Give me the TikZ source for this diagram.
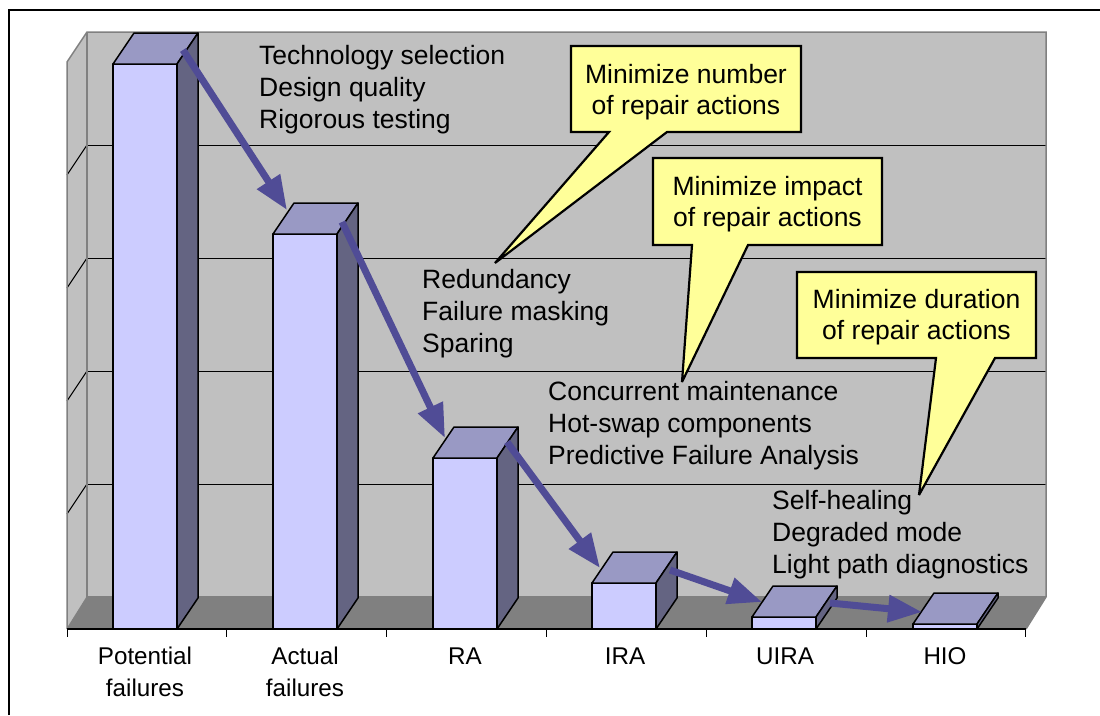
\documentclass[tikz,border=0pt]{standalone}
\usepackage{fontspec}
\setmainfont{Liberation Sans}
\usetikzlibrary{arrows.meta}

\definecolor{wallgray}{HTML}{C0C0C0}
\definecolor{floorgray}{HTML}{808080}
\definecolor{edgegray}{HTML}{808080}
\definecolor{barfront}{HTML}{CCCCFF}
\definecolor{bartop}{HTML}{9999C4}
\definecolor{barside}{HTML}{646482}
\definecolor{flow}{HTML}{504C96}
\definecolor{note}{HTML}{FFFF99}

% multi-line text whose reference point is the first baseline
\newcommand\leftlines[1]{\begin{tabular}[t]{@{}l@{}}#1\end{tabular}}
\newcommand\centerlines[1]{\begin{tabular}[t]{@{}c@{}}#1\end{tabular}}

% one 3-D column: #1 left x of the front face, #2 top y of the front face
\newcommand\drawcolumn[2]{%
  \filldraw[colface, fill=barfront] (#1,629) rectangle (#1+64,#2);
  \filldraw[colface, fill=bartop] (#1,#2) -- ++(21,-31) -- ++(64,0) -- ++(-21,31) -- cycle;
  \filldraw[colface, fill=barside] (#1+64,#2) -- ++(21,-31) -- (#1+85,598) -- (#1+64,629) -- cycle;
}

\begin{document}
\begin{tikzpicture}[x=1pt, y=-1pt,
  colface/.style={draw=black, line width=1.5pt, line join=round},
  flowarrow/.style={draw=flow, line width=7pt, -{Triangle[length=34pt,width=26pt]}},
  notebox/.style={fill=note, draw=black, line width=2.2pt, line join=miter, miter limit=3},
  bullets/.style={anchor=base west, inner sep=0pt, font=\fontsize{26.5}{32.3}\selectfont},
  notetext/.style={anchor=base, inner sep=0pt, font=\fontsize{26.5}{31.5}\selectfont},
  category/.style={anchor=base, inner sep=0pt, font=\fontsize{24.2}{32}\selectfont}]

\useasboundingbox (0,0) rectangle (1100,715);

% page frame
\draw[line width=1.3pt] (9,715) -- (9,10) -- (1100,10);

% chart walls and floor
\fill[wallgray] (87,32) rectangle (1046,597);
\fill[wallgray] (67,62) -- (87,32) -- (87,597) -- (67,629) -- cycle;
\fill[floorgray] (67,629) -- (87,597) -- (1046,597) -- (1026,629) -- cycle;

% value gridlines on the back and side walls
\foreach \g in {145,258,371,484} {
  \draw[line width=1pt] (87,\g) -- (1046,\g);
  \draw[line width=1pt] (87,\g) -- (67,\g+30);
}

% wall edges
\draw[edgegray, line width=1.5pt] (67,629) -- (67,62) -- (87,32) -- (1046,32) -- (1046,597) -- (1026,629);
\draw[edgegray, line width=1.2pt] (87,32) -- (87,597) -- (1046,597);
\draw[edgegray, line width=1.2pt] (67,629) -- (87,597);

% category axis with tick marks
\draw[line width=1.2pt] (67,629) -- (1026,629);
\foreach \i in {0,...,6} \draw[line width=1pt] (67+159.8*\i,629) -- ++(0,8);

% columns
\drawcolumn{113}{64}
\drawcolumn{273}{234}
\drawcolumn{433}{458}
\drawcolumn{592}{583}
\drawcolumn{752}{617}
\drawcolumn{913}{624}

% category labels
\node[category] (cat1) at (145,664) {\centerlines{Potential\\failures}};
\node[category] (cat2) at (305,664) {\centerlines{Actual\\failures}};
\node[category] (cat3) at (465,664) {RA};
\node[category] (cat4) at (625,664) {IRA};
\node[category] (cat5) at (785,664) {UIRA};
\node[category] (cat6) at (945,664) {HIO};

% step-down arrows between the column tops
\coordinate (s1) at (183,50);   \coordinate (e1) at (287,210);
\coordinate (s2) at (342,222);  \coordinate (e2) at (445,438);
\coordinate (s3) at (507,442);  \coordinate (e3) at (600,568);
\coordinate (s4) at (670,570);  \coordinate (e4) at (762,602);
\coordinate (s5) at (830,603);  \coordinate (e5) at (922,612);
\foreach \k in {1,...,5} \draw[flowarrow] (s\k) -- (e\k);

% techniques at each step
\node[bullets] (tech) at (259,64) {\leftlines{Technology selection\\Design quality\\Rigorous testing}};
\node[bullets] (redund) at (422,288) {\leftlines{Redundancy\\Failure masking\\Sparing}};
\node[bullets] (concur) at (548,400) {\leftlines{Concurrent maintenance\\Hot-swap components\\Predictive Failure Analysis}};
\node[bullets] (heal) at (772,509) {\leftlines{Self-healing\\Degraded mode\\Light path diagnostics}};

% callouts
\draw[notebox] (571,46) -- (801,46) -- (801,132) -- (667,132) -- (495,263) -- (609,132) -- (571,132) -- cycle;
\draw[notebox] (653,158) -- (882,158) -- (882,245) -- (748,245) -- (682,382) -- (692,245) -- (653,245) -- cycle;
\draw[notebox] (797,272) -- (1036,272) -- (1036,358) -- (995,358) -- (919,495) -- (936,358) -- (797,358) -- cycle;

\node[notetext] (goal1) at (686,83) {\centerlines{Minimize number\\of repair actions}};
\node[notetext] (goal2) at (767.5,195) {\centerlines{Minimize impact\\of repair actions}};
\node[notetext] (goal3) at (916.5,308) {\centerlines{Minimize duration\\of repair actions}};

\end{tikzpicture}
\end{document}
